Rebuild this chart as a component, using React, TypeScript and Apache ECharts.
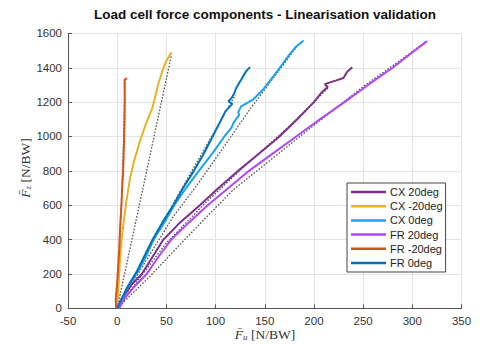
import React, { useEffect, useRef } from "react";
import * as echarts from "echarts";

const seriesNames = ["CX 20deg", "CX -20deg", "CX 0deg", "FR 20deg", "FR -20deg", "FR 0deg"];
const seriesColors = ["#7E2F8E", "#EDB120", "#1CA3EE", "#B447F5", "#D95319", "#0072BD"];

const cx20: number[][] = [
  [0, 0], [4, 40], [8, 80], [15, 140], [25, 200], [36, 300], [47, 400], [64, 500], [84, 600],
  [103, 700], [123, 800], [144, 900], [165, 1000], [183, 1100], [200, 1200], [208, 1258],
  [214, 1288], [211, 1305], [222, 1325], [230, 1340], [234, 1378], [239, 1403],
];
const cxm20: number[][] = [
  [0, 0], [1, 100], [2.5, 250], [4.5, 400], [7, 520], [9.5, 631], [13, 755], [17.5, 864],
  [22.5, 961], [29, 1070], [36, 1170], [42, 1310], [47, 1400], [50, 1440], [53, 1470], [55.5, 1490],
];
const cx0: number[][] = [
  [0, 0], [4, 40], [11, 126], [21, 213], [30, 310], [37, 400], [48, 500], [58, 600], [70, 700],
  [83, 800], [97, 903], [109, 1000], [116, 1050], [119, 1087], [124, 1126], [123, 1140],
  [126, 1175], [138, 1214], [148, 1272], [161.5, 1370], [175, 1476], [182, 1524], [189.5, 1559],
];
const fr20: number[][] = [
  [2, 0], [8, 60], [18, 130], [30, 200], [42, 300], [55, 400], [73, 500], [92, 600], [113, 700],
  [134, 800], [158, 900], [182, 1000], [206, 1100], [231, 1200], [255, 1300], [280, 1400],
  [298, 1480], [315, 1555],
];
const frm20: number[][] = [
  [-1, 0], [-1.5, 50], [0, 150], [2, 340], [3, 475], [4.5, 620], [5, 700], [6, 787], [6.5, 880],
  [7, 961], [7.5, 1100], [7.7, 1213], [7.5, 1330], [10, 1340],
];
const fr0: number[][] = [
  [0, 0], [3, 40], [10, 120], [20, 215], [29, 320], [36, 400], [46, 500], [57, 600], [67, 700],
  [78, 800], [88, 900], [97, 1000], [104, 1078], [110, 1146], [117, 1190], [113, 1205],
  [116, 1222], [119, 1250], [121, 1282], [126, 1330], [131, 1379], [135, 1404],
];

// linearised model (dotted) curves
const linCx20: number[][] = [[0, 0], [30, 230], [50, 380], [90, 615], [130, 830], [175, 1060], [215, 1285]];
const linCxm20: number[][] = [[0, 0], [27, 720], [55, 1470]];
const linCx0: number[][] = [[0, 0], [36, 340], [57, 534], [80, 708], [111, 961], [134.5, 1155], [160, 1350], [184, 1534]];
const linFr20: number[][] = [[0, 0], [33, 184], [57, 330], [88, 515], [118, 690], [156, 864], [200, 1065], [250, 1290], [287, 1440], [313, 1550]];
const linFrm20: number[][] = [[0, 0], [3, 400], [6, 900], [8, 1330]];
const linFr0: number[][] = [[0, 0], [60, 640], [100, 1040], [120, 1240]];

const xTicks = { min: -50, max: 350, interval: 50 };
const yTicks = { min: 0, max: 1600, interval: 200 };

const titleText = "Load cell force components - Linearisation validation";

export default function App() {
  const ref = useRef<HTMLDivElement>(null);
  useEffect(() => {
    if (!ref.current) return;
    const chart = echarts.init(ref.current, undefined, { renderer: "svg" });
    const solid = [cx20, cxm20, cx0, fr20, frm20, fr0];
    const lin = [linCx20, linCxm20, linCx0, linFr20, linFrm20, linFr0];
    const series: any[] = [];
    lin.forEach((d, i) => {
      series.push({
        type: "line",
        name: "lin" + i,
        data: d,
        showSymbol: false,
        silent: true,
        z: 2,
        lineStyle: { color: "#555", width: 1.3, type: [1.6, 1.6] },
      });
    });
    solid.forEach((d, i) => {
      series.push({
        type: "line",
        name: seriesNames[i],
        data: d,
        showSymbol: false,
        z: 3,
        itemStyle: { color: seriesColors[i] },
        lineStyle: { color: seriesColors[i], width: 2 },
      });
    });
    const axisFont = { fontFamily: "Liberation Sans", fontSize: 11.5, color: "#333" };
    chart.setOption({
      animation: false,
      grid: { left: 68, right: 21.5, top: 33.4, bottom: 35.7 },
      xAxis: {
        type: "value",
        min: xTicks.min,
        max: xTicks.max,
        interval: xTicks.interval,
        axisLine: { show: true, onZero: false, lineStyle: { color: "#555", width: 1 } },
        axisTick: { show: true, inside: true, length: 4, lineStyle: { color: "#555" } },
        axisLabel: { ...axisFont, margin: 7, formatter: (v: number) => String(v) },
        splitLine: { show: true, lineStyle: { color: "#e3e3e3", width: 1 } },
      },
      yAxis: {
        type: "value",
        min: yTicks.min,
        max: yTicks.max,
        interval: yTicks.interval,
        axisLine: { show: true, onZero: false, lineStyle: { color: "#555", width: 1 } },
        axisTick: { show: true, inside: true, length: 4, lineStyle: { color: "#555" } },
        axisLabel: { ...axisFont, margin: 6, formatter: (v: number) => String(v) },
        splitLine: { show: true, lineStyle: { color: "#e3e3e3", width: 1 } },
      },
      legend: {
        data: seriesNames.map((n) => ({ name: n, icon: "rect" })),
        orient: "vertical",
        left: 347,
        top: 183,
        itemWidth: 35,
        itemHeight: 2.5,
        itemGap: 2.2,
        padding: [3, 3, 3, 4],
        borderColor: "#444",
        borderWidth: 1,
        backgroundColor: "#fff",
        textStyle: { fontFamily: "Liberation Sans", fontSize: 11, color: "#222", lineHeight: 12, padding: [0, 0, 0, -1] },
      },
      graphic: [
        {
          type: "text",
          x: 265,
          y: 14,
          style: {
            text: titleText,
            align: "center",
            verticalAlign: "middle",
            textAlign: "center",
            textVerticalAlign: "middle",
            font: "bold 13.5px 'Liberation Sans'",
            fill: "#111",
          },
        },
        {
          type: "text",
          x: 265,
          y: 334,
          style: {
            text: "{i|F\u0304}{s|u} {n|[N/BW]}",
            align: "center",
            verticalAlign: "middle",
            textAlign: "center",
            textVerticalAlign: "middle",
            rich: {
              i: { fontFamily: "Liberation Serif", fontStyle: "italic", fontSize: 13.5, fill: "#333" },
              s: { fontFamily: "Liberation Serif", fontStyle: "italic", fontSize: 9, fill: "#333", padding: [6, 0, 0, 0] },
              n: { fontFamily: "Liberation Serif", fontSize: 13.5, fill: "#333" },
            },
          },
        },
        {
          type: "text",
          x: 25,
          y: 168,
          rotation: Math.PI / 2,
          style: {
            text: "{i|F\u0304}{s|z} {n|[N/BW]}",
            align: "center",
            verticalAlign: "middle",
            textAlign: "center",
            textVerticalAlign: "middle",
            rich: {
              i: { fontFamily: "Liberation Serif", fontStyle: "italic", fontSize: 13.5, fill: "#333" },
              s: { fontFamily: "Liberation Serif", fontStyle: "italic", fontSize: 9, fill: "#333", padding: [6, 0, 0, 0] },
              n: { fontFamily: "Liberation Serif", fontSize: 13.5, fill: "#333" },
            },
          },
        },
      ],
      series,
    });
    return () => chart.dispose();
  }, []);
  return (
    <div
      ref={ref}
      style={{ position: "fixed", left: 0, top: 0, width: 483, height: 344, background: "#fff" }}
    />
  );
}
